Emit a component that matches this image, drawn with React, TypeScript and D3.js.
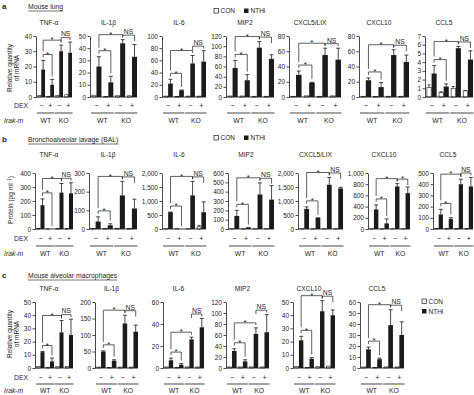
import React, { useEffect, useRef } from 'react';
import * as d3 from 'd3';

// a: mouse lung (relative quantity of mRNA)
const lungTitles = ['TNF-α', 'IL-1β', 'IL-6', 'MIP2', 'CXCL5/LIX', 'CXCL10', 'CCL5'];
const lungMax = [40, 50, 100, 120, 80, 80, 7];
const lungStep = [10, 10, 20, 20, 20, 20, 1];
const lungCon = [[1, 0.5, 1, 1.5], [1.5, 0.5, 1, 1], [1.5, 0.8, 1.5, 1.5], [2, 2, 1.5, 1.5], [1, 1.5, 1, 1.5], [1, 0.5, 1, 1], [1.1, 0.5, 1.0, 0.7]];
const lungConErr = [[0, 0, 0, 0], [0, 0, 0, 0], [0, 0, 0, 0], [0, 0, 0, 0], [0, 0, 0, 0], [0, 0, 0, 0], [0.3, 0.1, 0.2, 0.05]];
const lungNthi = [[18, 8, 30, 29], [25, 12, 44, 33], [22, 11, 55, 58], [57, 33, 97, 75], [29, 19, 55, 49], [22, 13, 55, 46], [2.7, 1.2, 5.6, 4.3]];
const lungErr = [[6, 3.5, 4, 7], [8, 5, 3, 10], [7, 0.5, 13, 18], [15, 11, 12, 8], [5, 0.3, 9, 15], [3, 6, 7, 9], [0.9, 0.3, 0.2, 1.0]];
const lungKoSig = ['NS', 'NS', 'NS', 'NS', 'NS', 'NS', 'NS'];

// b: bronchoalveolar lavage (protein, pg/ml)
const balTitles = ['TNF-α', 'IL-1β', 'IL-6', 'MIP2', 'CXCL5/LIX', 'CXCL10', 'CCL5'];
const balMax = [400, 300, 2000, 600, 2000, 1000, 500];
const balStep = [100, 100, 500, 100, 500, 200, 100];
const balCon = [[3, 2, 3, 3], [2, 2, 2, 2], [10, 10, 10, 80], [3, 3, 3, 3], [10, 10, 10, 10], [5, 5, 5, 5], [3, 3, 3, 3]];
const balConErr = [[0, 0, 0, 0], [0, 0, 0, 0], [0, 0, 0, 50], [0, 0, 0, 0], [0, 0, 0, 0], [0, 0, 0, 0], [0, 0, 0, 0]];
const balNthi = [[170, 0, 260, 255], [40, 20, 180, 110], [600, 0, 1200, 600], [140, 15, 370, 315], [720, 400, 1580, 1450], [350, 100, 760, 640], [130, 90, 400, 380]];
const balErr = [[45, 0, 65, 75], [25, 8, 75, 50], [5, 0, 500, 370], [60, 0, 125, 150], [70, 0, 260, 40], [80, 80, 50, 110], [45, 12, 45, 80]];
const balKoSig = ['NS', 'NS', 'NS', 'NS', 'NS', '*', 'NS'];

// c: mouse alveolar macrophages (relative quantity of mRNA)
const amTitles = ['TNF-α', 'IL-1β', 'IL-6', 'MIP2', 'CXCL10', 'CCL5'];
const amMax = [50, 200, 60, 120, 50, 60];
const amStep = [10, 50, 20, 20, 10, 10];
const amCon = [[1, 0.5, 1, 1], [3, 2, 3, 3], [1, 0.5, 1, 1], [2, 2, 2, 2], [1, 0.5, 1, 1.5], [1, 0.5, 1, 1]];
const amConErr = [[0, 0, 0, 0], [0, 0, 0, 0], [0, 0, 0, 0], [0, 0, 0, 0], [0, 0, 0, 0], [0, 0, 0, 0]];
const amNthi = [[12, 5, 27, 25], [50, 22, 135, 110], [7, 3, 26, 37], [31, 12, 62, 65], [21, 7, 43, 40], [17, 8, 39, 30]];
const amErr = [[0.5, 2.5, 9, 12], [2, 3, 25, 20], [2, 1, 2, 8], [4, 3, 11, 32], [3, 1, 8, 4], [2, 1, 14, 12]];
const amKoSig = ['NS', 'NS', 'NS', 'NS', 'NS', 'NS'];

const dexSigns = ['−', '+', '−', '+'];
const genotypes = ['WT', 'KO'];

const ink = '#1b1b1b';
const font = '"Liberation Sans", Arial, sans-serif';

type Row = {
  titles: string[]; max: number[]; step: number[];
  con: number[][]; conErr: number[][]; nthi: number[][]; err: number[][]; koSig: string[];
  axisX: number[]; widths: number[];
  top: number; bottom: number; titleY: number; dexY: number; lineY: number; gtY: number;
  fmt: (n: number) => string;
};

const rows: Row[] = [
  {
    titles: lungTitles, max: lungMax, step: lungStep, con: lungCon, conErr: lungConErr, nthi: lungNthi, err: lungErr, koSig: lungKoSig,
    axisX: [36, 90, 162, 226, 289, 359, 425], widths: [36, 47, 44, 48, 52, 50, 48],
    top: 36, bottom: 97, titleY: 25, dexY: 108, lineY: 113, gtY: 123, fmt: d3.format('d'),
  },
  {
    titles: balTitles, max: balMax, step: balStep, con: balCon, conErr: balConErr, nthi: balNthi, err: balErr, koSig: balKoSig,
    axisX: [35, 89, 162, 228, 298, 368, 433], widths: [38, 48, 44, 46, 45, 42, 40],
    top: 173, bottom: 229, titleY: 157, dexY: 241, lineY: 246, gtY: 256, fmt: d3.format(','),
  },
  {
    titles: amTitles, max: amMax, step: amStep, con: amCon, conErr: amConErr, nthi: amNthi, err: amErr, koSig: amKoSig,
    axisX: [35, 95, 163, 226, 293, 360], widths: [38, 43, 41, 43, 42, 44],
    top: 302, bottom: 368, titleY: 291, dexY: 380, lineY: 384, gtY: 393, fmt: d3.format('d'),
  },
];

function bracket(g: any, x1: number, x2: number, yl: number, y1: number, y2: number, label: string) {
  g.append('path')
    .attr('d', `M${x1},${y1}V${yl}H${x2}V${y2}`)
    .attr('fill', 'none').attr('stroke', ink).attr('stroke-width', 0.7);
  if (label === '*') {
    g.append('text').attr('x', (x1 + x2) / 2).attr('y', yl + 2.2).attr('text-anchor', 'middle')
      .attr('font-size', 8).text('*');
  } else {
    g.append('text').attr('x', (x1 + x2) / 2).attr('y', yl - 1.2).attr('text-anchor', 'middle')
      .attr('font-size', 6.8).text(label);
  }
}

function drawRow(svg: any, r: Row) {
  r.titles.forEach((title, i) => {
    const x0 = r.axisX[i], w = r.widths[i];
    const y = d3.scaleLinear().domain([0, r.max[i]]).range([r.bottom, r.top]);
    const band = d3.scaleBand<number>().domain([0, 1, 2, 3]).range([x0 + 1.5, x0 + w]).paddingInner(0.16);
    const bw = band.bandwidth();
    const cx = (k: number) => band(k)! + bw * 0.75;
    const g = svg.append('g');

    g.append('text').attr('x', x0 + w / 2 - 5).attr('y', r.titleY).attr('text-anchor', 'middle')
      .attr('font-size', 6.6).text(title);

    // CON bars
    g.selectAll('rect.con').data(r.con[i]).join('rect').attr('class', 'con')
      .attr('x', (d: number, k: number) => band(k)! + bw * 0.04)
      .attr('y', (d: number) => y(d)).attr('width', bw * 0.42)
      .attr('height', (d: number) => y(0) - y(d))
      .attr('fill', '#fff').attr('stroke', ink).attr('stroke-width', 0.6);
    r.con[i].forEach((v, k) => {
      const e = r.conErr[i][k];
      if (e <= 0) return;
      const c = band(k)! + bw * 0.25;
      g.append('path').attr('d', `M${c},${y(v)}V${y(v + e)}M${c - 1.6},${y(v + e)}H${c + 1.6}`)
        .attr('stroke', ink).attr('stroke-width', 0.7);
    });

    // NTHi bars
    g.selectAll('rect.nthi').data(r.nthi[i]).join('rect').attr('class', 'nthi')
      .attr('x', (d: number, k: number) => band(k)! + bw * 0.5)
      .attr('y', (d: number) => y(d)).attr('width', bw * 0.5)
      .attr('height', (d: number) => y(0) - y(d)).attr('fill', ink);
    r.nthi[i].forEach((v, k) => {
      const e = r.err[i][k];
      if (e <= 0 && v <= 0) return;
      const c = cx(k);
      g.append('path').attr('d', `M${c},${y(v)}V${y(v + e)}M${c - 2},${y(v + e)}H${c + 2}`)
        .attr('stroke', ink).attr('stroke-width', 0.8);
    });

    // baseline + axis
    g.append('line').attr('x1', x0).attr('x2', x0 + w).attr('y1', y(0)).attr('y2', y(0))
      .attr('stroke', ink).attr('stroke-width', 0.9);
    const ax = g.append('g').attr('transform', `translate(${x0},0)`)
      .call(d3.axisLeft(y).tickValues(d3.range(0, r.max[i] + r.step[i] / 2, r.step[i]))
        .tickSize(2.5).tickSizeOuter(0).tickPadding(1.5).tickFormat(r.fmt as any));
    ax.select('.domain').attr('stroke', ink).attr('stroke-width', 0.8);
    ax.selectAll('line').attr('stroke', ink).attr('stroke-width', 0.8);
    ax.selectAll('text').attr('font-size', 6.5).attr('fill', ink).attr('font-family', font);

    // significance brackets
    const tops = r.nthi[i].map((v, k) => v + r.err[i][k]);
    const ty = tops.map(t => y(t));
    const wtY = Math.min(ty[0], ty[1]) - 6;
    bracket(g, cx(0), cx(1), wtY, Math.min(ty[0] - 2.5, wtY + 3), ty[1] - 3, '*');
    const bigY = Math.min(wtY - 12, ty[2] - 5);
    bracket(g, cx(0), cx(2), bigY, wtY - 3, ty[2] - 2.5, '*');
    const nsY = Math.min(ty[2], ty[3]) - 4.5;
    bracket(g, cx(2), cx(3), nsY, Math.min(ty[2] - 2, nsY + 4), Math.min(ty[3] - 2, nsY + 6), r.koSig[i]);

    // DEX signs and genotype bars
    dexSigns.forEach((s, k) => {
      g.append('text').attr('x', band(k)! + bw / 2).attr('y', r.dexY).attr('text-anchor', 'middle')
        .attr('font-size', 7).text(s);
    });
    genotypes.forEach((gt, j) => {
      const xa = band(j * 2)! - 0.5, xb = band(j * 2 + 1)! + bw + 0.5;
      g.append('line').attr('x1', xa).attr('x2', xb).attr('y1', r.lineY).attr('y2', r.lineY)
        .attr('stroke', '#666').attr('stroke-width', 1.2);
      g.append('text').attr('x', (xa + xb) / 2).attr('y', r.gtY).attr('text-anchor', 'middle')
        .attr('font-size', 6.8).text(gt);
    });
  });

  svg.append('text').attr('x', 28).attr('y', r.dexY).attr('text-anchor', 'end').attr('font-size', 6.8).text('DEX');
  svg.append('text').attr('x', 4).attr('y', r.gtY).attr('font-size', 6.8).attr('font-style', 'italic').text('Irak-m');
}

function legendH(svg: any, x: number, y: number) {
  svg.append('rect').attr('x', x).attr('y', y - 4.5).attr('width', 4.5).attr('height', 4.5)
    .attr('fill', '#fff').attr('stroke', ink).attr('stroke-width', 0.7);
  svg.append('text').attr('x', x + 6.5).attr('y', y).attr('font-size', 6.5).text('CON');
  svg.append('rect').attr('x', x + 30).attr('y', y - 4.5).attr('width', 4.5).attr('height', 4.5).attr('fill', ink);
  svg.append('text').attr('x', x + 36.5).attr('y', y).attr('font-size', 6.5).text('NTHi');
}

function header(svg: any, letter: string, title: string, y: number) {
  svg.append('text').attr('x', 2).attr('y', y).attr('font-size', 8).attr('font-weight', 'bold').text(letter);
  const t = svg.append('text').attr('x', 28).attr('y', y).attr('font-size', 6.8).text(title);
  const len = (t.node() as SVGTextElement).getComputedTextLength();
  svg.append('line').attr('x1', 28).attr('x2', 28 + len).attr('y1', y + 2).attr('y2', y + 2)
    .attr('stroke', ink).attr('stroke-width', 0.6);
}

function draw(el: SVGSVGElement) {
  const svg = d3.select(el);
  svg.selectAll('*').remove();
  svg.attr('font-family', font).attr('fill', ink);

  header(svg, 'a', 'Mouse lung', 9);
  header(svg, 'b', 'Bronchoalveolar lavage (BAL)', 142);
  header(svg, 'c', 'Mouse alveolar macrophages', 278);
  legendH(svg, 214, 13);
  legendH(svg, 214, 140);

  // row c legend (vertical)
  svg.append('rect').attr('x', 422).attr('y', 299).attr('width', 4.5).attr('height', 4.5)
    .attr('fill', '#fff').attr('stroke', ink).attr('stroke-width', 0.7);
  svg.append('text').attr('x', 428.5).attr('y', 304).attr('font-size', 6.5).text('CON');
  svg.append('rect').attr('x', 422).attr('y', 309).attr('width', 4.5).attr('height', 4.5).attr('fill', ink);
  svg.append('text').attr('x', 428.5).attr('y', 314).attr('font-size', 6.5).text('NTHi');

  rows.forEach(r => drawRow(svg, r));

  // y-axis titles
  const ylab = (lines: string[], cxs: number[], cy: number) => {
    lines.forEach((s, j) => {
      svg.append('text').attr('transform', `translate(${cxs[j]},${cy}) rotate(-90)`)
        .attr('text-anchor', 'middle').attr('font-size', 6.5).text(s);
    });
  };
  ylab(['Relative quantity', 'of mRNA'], [12, 19], 68);
  ylab(['Relative quantity', 'of mRNA'], [12, 19], 334);
  const pt = svg.append('text').attr('transform', 'translate(13,200) rotate(-90)')
    .attr('text-anchor', 'middle').attr('font-size', 6.5);
  pt.append('tspan').text('Protein (pg ml');
  pt.append('tspan').attr('font-size', 4.5).attr('dy', -2.5).text('−1');
  pt.append('tspan').attr('dy', 2.5).text(')');
}

export default function App() {
  const ref = useRef<SVGSVGElement>(null);
  useEffect(() => {
    if (ref.current) draw(ref.current);
  }, []);
  return (
    <svg ref={ref} width={474} height={395}
      style={{ position: 'absolute', left: 0, top: 0, background: '#fff', display: 'block' }} />
  );
}
